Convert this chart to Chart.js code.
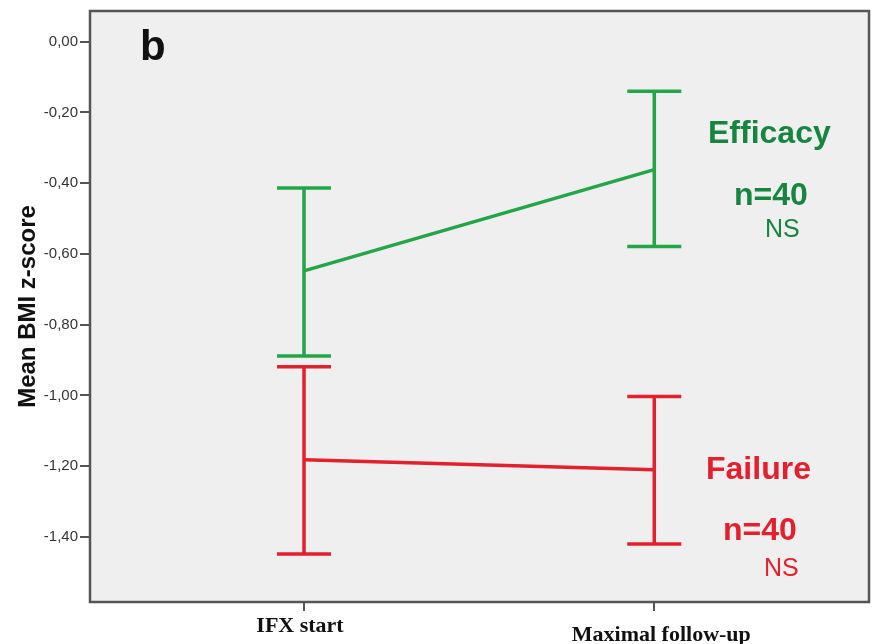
<!DOCTYPE html>
<html>
<head>
<meta charset="utf-8">
<script src="https://cdn.jsdelivr.net/npm/chart.js@4"></script>
<style>
  html, body { margin: 0; padding: 0; background: #fff; }
  #wrap { width: 874px; height: 644px; }
</style>
</head>
<body>
<div id="wrap"><canvas id="myChart" width="874" height="644"></canvas></div>
<script>
const categories = ['IFX start', 'Maximal follow-up'];
const yTicks = [0, -0.2, -0.4, -0.6, -0.8, -1.0, -1.2, -1.4];

const efficacyMean = [-0.648, -0.362];
const efficacyLow  = [-0.889, -0.579];
const efficacyHigh = [-0.414, -0.140];

const failureMean = [-1.182, -1.210];
const failureLow  = [-1.448, -1.420];
const failureHigh = [-0.919, -1.003];

const green = '#23a548';
const greenText = '#17853f';
const red = '#e3202e';

function meanPoints(mean) {
    return mean.map((v, i) => ({x: i, y: v}));
}
function whiskerPoints(low, high) {
    const pts = [];
    low.forEach((v, i) => {
        pts.push({x: i, y: v}, {x: i, y: high[i]}, {x: i, y: null});
    });
    return pts;
}
function capPoints(low, high) {
    const pts = [];
    low.forEach((v, i) => {
        pts.push({x: i, y: v}, {x: i, y: high[i]});
    });
    return pts;
}

function lineSet(data, color) {
    return {
        type: 'line',
        data: data,
        borderColor: color,
        borderWidth: 3.5,
        pointRadius: 0,
        tension: 0,
        spanGaps: false
    };
}
function capSet(data, color) {
    return {
        type: 'line',
        data: data,
        showLine: false,
        pointStyle: 'line',
        pointRadius: 27,
        pointHoverRadius: 27,
        pointBorderWidth: 3.5,
        pointBorderColor: color,
        borderColor: color
    };
}

// background + frame + text labels
const decor = {
    id: 'decor',
    beforeDraw(chart) {
        const {ctx, chartArea: a} = chart;
        ctx.save();
        ctx.fillStyle = '#efefef';
        ctx.fillRect(a.left, a.top, a.right - a.left, a.bottom - a.top);
        ctx.restore();
    },
    afterDraw(chart) {
        const {ctx, chartArea: a} = chart;
        const xs = chart.scales.x;
        ctx.save();
        ctx.strokeStyle = '#555';
        ctx.lineWidth = 2.5;
        ctx.strokeRect(a.left, a.top, a.right - a.left, a.bottom - a.top);

        ctx.textBaseline = 'alphabetic';
        ctx.fillStyle = '#111';
        ctx.font = 'bold 42px "Liberation Sans", Arial, sans-serif';
        ctx.textAlign = 'left';
        ctx.fillText('b', 140, 60);

        // category labels
        ctx.font = 'bold 22px "Liberation Serif", "Times New Roman", serif';
        ctx.textAlign = 'center';
        const shift = [[-4, 632], [7, 641]];
        categories.forEach((c, i) => {
            ctx.fillText(c, xs.getPixelForValue(i) + shift[i][0], shift[i][1]);
        });

        ctx.textAlign = 'left';
        ctx.font = 'bold 32px "Liberation Sans", Arial, sans-serif';
        ctx.fillStyle = greenText;
        ctx.fillText('Efficacy', 708, 143);
        ctx.fillText('n=40', 734, 205);
        ctx.fillStyle = red;
        ctx.fillText('Failure', 706, 479);
        ctx.fillText('n=40', 723, 540);

        ctx.font = '25px "Liberation Sans", Arial, sans-serif';
        ctx.fillStyle = greenText;
        ctx.fillText('NS', 765, 237);
        ctx.fillStyle = red;
        ctx.fillText('NS', 764, 576);
        ctx.restore();
    }
};

const config = {
    type: 'line',
    data: {
        datasets: [
            lineSet(meanPoints(efficacyMean), green),
            lineSet(whiskerPoints(efficacyLow, efficacyHigh), green),
            capSet(capPoints(efficacyLow, efficacyHigh), green),
            lineSet(meanPoints(failureMean), red),
            lineSet(whiskerPoints(failureLow, failureHigh), red),
            capSet(capPoints(failureLow, failureHigh), red)
        ]
    },
    options: {
        responsive: false,
        animation: false,
        events: [],
        layout: {
            autoPadding: false,
            padding: {top: 8, right: 5, left: 0, bottom: 0}
        },
        plugins: {
            legend: {display: false},
            tooltip: {enabled: false}
        },
        scales: {
            x: {
                type: 'linear',
                min: -0.611,
                max: 1.613,
                afterFit: (s) => { s.height = 42; },
                afterBuildTicks: (s) => {
                    s.ticks = categories.map((c, i) => ({value: i}));
                },
                border: {display: false},
                grid: {
                    drawOnChartArea: false,
                    tickLength: 9,
                    color: '#555',
                    lineWidth: 2
                },
                ticks: {display: false}
            },
            y: {
                min: -1.584,
                max: 0.0865,
                afterFit: (s) => { s.width = 90; },
                afterBuildTicks: (s) => {
                    s.ticks = yTicks.map(v => ({value: v}));
                },
                border: {display: false},
                grid: {
                    drawOnChartArea: false,
                    tickLength: 10,
                    color: '#555',
                    lineWidth: 2
                },
                ticks: {
                    padding: 2,
                    color: '#333',
                    font: {family: '"Liberation Sans", Arial, sans-serif', size: 15},
                    callback: (v) => (Math.abs(v) < 1e-9 ? 0 : v).toFixed(2).replace('.', ',')
                },
                title: {
                    display: true,
                    text: 'Mean BMI z-score',
                    color: '#111',
                    font: {family: '"Liberation Sans", Arial, sans-serif', size: 24, weight: 'bold'},
                    padding: {top: 14, bottom: 0}
                }
            }
        }
    },
    plugins: [decor]
};

const myChart = new Chart(document.getElementById('myChart'), config);
</script>
</body>
</html>
